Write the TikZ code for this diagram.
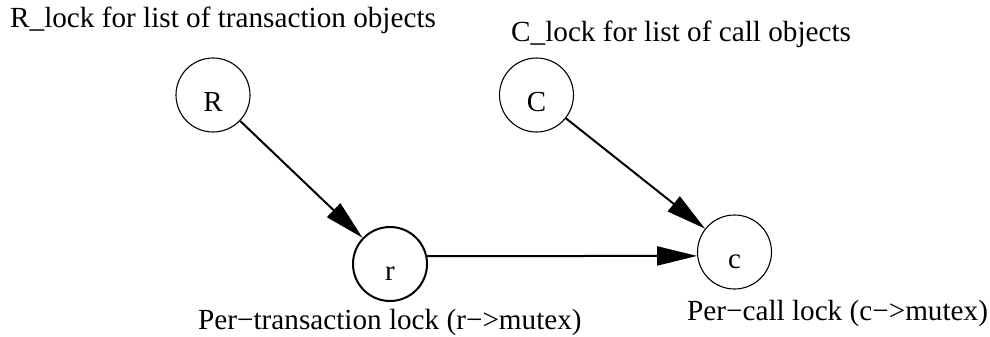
\documentclass[tikz,border=0pt]{standalone}
\usepackage{fontspec}
\setmainfont{Liberation Serif}
\usetikzlibrary{arrows.meta}
\begin{document}
\begin{tikzpicture}[x=1pt,y=-1pt,
  lockcircle/.style={circle,draw,line width=1.1pt,minimum size=74pt,inner sep=0pt,
    text height=32pt,text depth=0pt,font=\fontsize{29}{30}\selectfont},
  boldcircle/.style={lockcircle,line width=2pt},
  caption/.style={anchor=base west,inner sep=0pt,font=\fontsize{29.2}{30}\selectfont},
  link/.style={line width=2pt,-{Triangle[length=40pt 0 0,width=19pt 0 0]}}]
\useasboundingbox (0,0) rectangle (990,337);
\node[lockcircle] (R) at (213,95) {R};
\node[lockcircle] (C) at (536.5,95) {C};
\node[boldcircle] (r) at (390,264) {r};
\node[lockcircle] (c) at (734.5,252) {c};
\node[caption] (Rl) at (10,28) {R\_lock for list of transaction objects};
\node[caption] (Cl) at (511,42) {C\_lock for list of call objects};
\node[caption] (rl) at (198,329) {Per−transaction lock (r−>mutex)};
\node[caption] (cl) at (687,320) {Per−call lock (c−>mutex)};
\draw[link] (R) -- (r);
\draw[link] (C) -- (c);
\draw[link] (r.12.5) -- (c.186);
\end{tikzpicture}
\end{document}
